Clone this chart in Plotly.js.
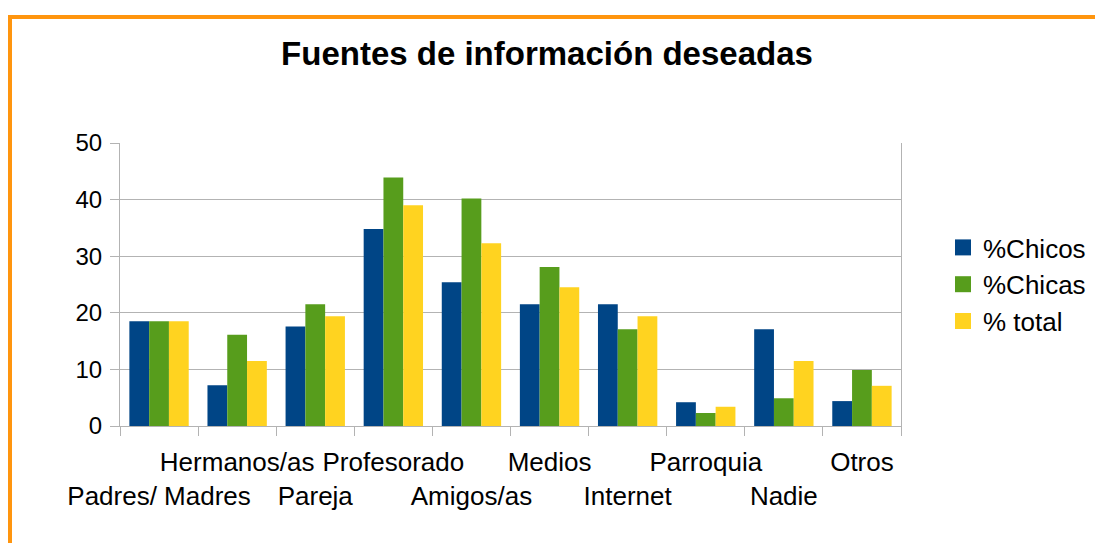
<!DOCTYPE html>
<html>
<head>
<meta charset="utf-8">
<script src="https://cdn.plot.ly/plotly-3.0.1.min.js"></script>
<style>
  html, body { margin: 0; padding: 0; background: #fff; overflow: hidden; }
  #wrap { position: relative; width: 1095px; height: 543px; overflow: hidden; }
  #chart { width: 1140px; height: 543px; }
  #frame { position: absolute; left: 8px; top: 15px; right: 0; bottom: 0;
           border-top: 4px solid #FF950E; border-left: 4px solid #FF950E; pointer-events: none; }
</style>
</head>
<body>
<div id="wrap">
  <div id="chart"></div>
  <div id="frame"></div>
</div>
<script>
const categories = ["Padres/ Madres", "Hermanos/as", "Pareja", "Profesorado", "Amigos/as",
                    "Medios", "Internet", "Parroquia", "Nadie", "Otros"];
const chicos = [18.5, 7.2, 17.6, 34.8, 25.4, 21.5, 21.5, 4.2, 17.1, 4.4];
const chicas = [18.5, 16.1, 21.5, 43.9, 40.2, 28.1, 17.1, 2.3, 4.9, 9.9];
const total  = [18.5, 11.5, 19.4, 39.0, 32.3, 24.5, 19.4, 3.4, 11.5, 7.1];
const seriesNames = ["%Chicos", "%Chicas", "% total"];
const yTicks = [0, 10, 20, 30, 40, 50];

// staggered labels: even index on lower row, odd on upper row
const tickText = categories.map((c, i) => i % 2 === 0 ? "&nbsp;<br>" + c : c + "<br>&nbsp;");

const colors = ["#004586", "#579D1C", "#FFD320"];
const font = "Liberation Sans, Arial, sans-serif";

const bars = [chicos, chicas, total].map((vals, k) => ({
  type: "bar",
  name: seriesNames[k],
  x: categories,
  y: vals,
  marker: { color: colors[k], line: { width: 0 } },
  showlegend: false,
  hoverinfo: "x+y+name"
}));

// legend swatches (square markers, larger than bar legend icons)
const legendTraces = seriesNames.map((n, k) => ({
  type: "scatter",
  mode: "markers",
  name: n,
  x: [null],
  y: [null],
  marker: { symbol: "square", size: 20, color: colors[k], line: { width: 0 } },
  showlegend: true
}));

const layout = {
  width: 1140, height: 543,
  margin: { l: 120, r: 239, t: 143, b: 117, pad: 0 },
  paper_bgcolor: "#ffffff",
  plot_bgcolor: "#ffffff",
  font: { family: font, color: "#000", size: 24 },
  title: {
    text: "<b>Fuentes de información deseadas</b>",
    font: { family: font, size: 33, color: "#000" },
    x: (547 - 120) / 781, xref: "paper", xanchor: "center",
    y: 1 - 53 / 543, yref: "container", yanchor: "middle"
  },
  barmode: "group",
  bargap: 0.24,
  bargroupgap: 0,
  xaxis: {
    type: "category",
    tickmode: "array",
    tickvals: categories,
    ticktext: tickText,
    tickson: "boundaries",
    ticks: "outside",
    ticklen: 9,
    tickcolor: "#b3b3b3",
    tickwidth: 1,
    ticklabelstandoff: 13,
    showgrid: false,
    showline: true,
    linecolor: "#b3b3b3",
    linewidth: 1,
    tickangle: 0,
    tickfont: { family: font, size: 26, color: "#000" },
    automargin: false
  },
  yaxis: {
    range: [0, 50],
    tickmode: "array",
    tickvals: yTicks,
    ticks: "outside",
    ticklen: 9,
    tickcolor: "#b3b3b3",
    ticklabelstandoff: 3,
    showgrid: true,
    gridcolor: "#b3b3b3",
    gridwidth: 1,
    showline: true,
    mirror: true,
    linecolor: "#b3b3b3",
    linewidth: 1,
    zeroline: false,
    tickfont: { family: font, size: 24, color: "#000" },
    automargin: false
  },
  legend: {
    x: (943 - 120) / 781, xanchor: "left",
    y: 0.5, yanchor: "middle",
    font: { family: font, size: 26, color: "#000" },
    bgcolor: "rgba(0,0,0,0)",
    itemwidth: 30,
    traceorder: "normal"
  },
  showlegend: true
};

Plotly.newPlot("chart", bars.concat(legendTraces), layout, { displayModeBar: false, staticPlot: true });
</script>
</body>
</html>
